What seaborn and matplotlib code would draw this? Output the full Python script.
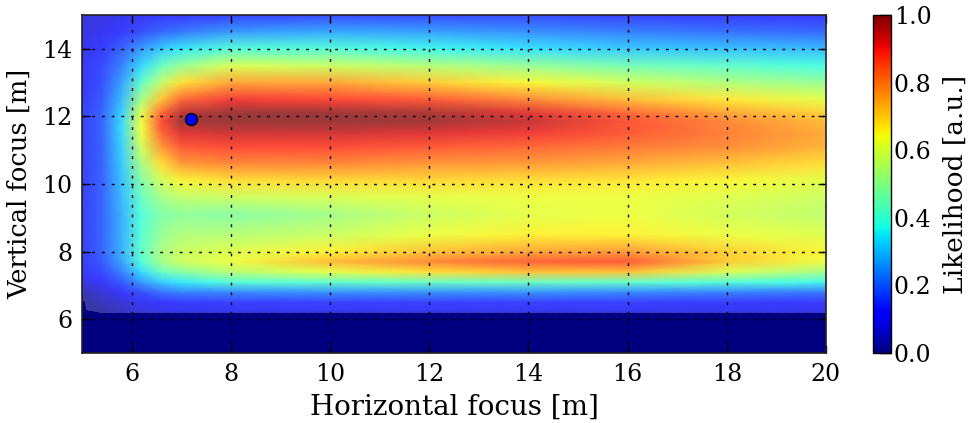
import numpy as np
import matplotlib
matplotlib.use("Agg")
import matplotlib.pyplot as plt
from matplotlib.colors import ListedColormap, Normalize
import seaborn as sns

# ---- data ----
horizontal_focus = [5.0, 5.4, 5.8, 6.2, 6.6, 7.0, 8.0, 10.0, 12.0, 14.0, 16.0, 18.0, 20.0]
vertical_focus = [5.0, 6.15, 6.25, 6.5, 6.8, 7.1, 7.4, 7.7, 8.0, 8.5, 9.1, 9.6,
                  10.1, 10.6, 11.1, 11.5, 11.85, 12.1, 12.5, 13.0, 13.5, 14.0, 14.5, 15.0]
likelihood_rows = [
    [0.00, 0.00, 0.00, 0.00, 0.00, 0.00, 0.00, 0.00, 0.00, 0.00, 0.00, 0.00, 0.00],  # 5.0
    [0.00, 0.00, 0.00, 0.00, 0.00, 0.00, 0.00, 0.00, 0.00, 0.00, 0.00, 0.00, 0.00],  # 6.15
    [0.00, 0.02, 0.05, 0.08, 0.09, 0.10, 0.10, 0.10, 0.10, 0.10, 0.10, 0.10, 0.10],  # 6.25
    [0.00, 0.04, 0.07, 0.10, 0.12, 0.13, 0.14, 0.14, 0.14, 0.14, 0.14, 0.13, 0.13],  # 6.5
    [0.03, 0.07, 0.11, 0.16, 0.20, 0.22, 0.23, 0.24, 0.24, 0.24, 0.23, 0.22, 0.21],  # 6.8
    [0.08, 0.11, 0.17, 0.25, 0.31, 0.35, 0.40, 0.42, 0.43, 0.43, 0.42, 0.40, 0.37],  # 7.1
    [0.11, 0.15, 0.22, 0.33, 0.43, 0.48, 0.55, 0.62, 0.68, 0.72, 0.72, 0.60, 0.52],  # 7.4
    [0.13, 0.17, 0.26, 0.40, 0.52, 0.58, 0.63, 0.73, 0.80, 0.85, 0.86, 0.71, 0.63],  # 7.7
    [0.14, 0.18, 0.28, 0.42, 0.53, 0.58, 0.61, 0.66, 0.72, 0.76, 0.77, 0.70, 0.65],  # 8.0
    [0.14, 0.18, 0.28, 0.41, 0.50, 0.54, 0.55, 0.58, 0.63, 0.66, 0.66, 0.63, 0.61],  # 8.5
    [0.14, 0.18, 0.28, 0.40, 0.47, 0.49, 0.48, 0.52, 0.58, 0.62, 0.63, 0.59, 0.56],  # 9.1
    [0.14, 0.18, 0.29, 0.43, 0.52, 0.56, 0.58, 0.60, 0.62, 0.63, 0.63, 0.61, 0.58],  # 9.6
    [0.14, 0.18, 0.30, 0.47, 0.59, 0.65, 0.68, 0.69, 0.69, 0.68, 0.67, 0.65, 0.62],  # 10.1
    [0.14, 0.18, 0.31, 0.53, 0.68, 0.77, 0.80, 0.80, 0.78, 0.77, 0.75, 0.72, 0.68],  # 10.6
    [0.14, 0.18, 0.32, 0.59, 0.78, 0.86, 0.88, 0.88, 0.86, 0.84, 0.82, 0.79, 0.74],  # 11.1
    [0.14, 0.18, 0.33, 0.63, 0.84, 0.92, 0.94, 0.94, 0.92, 0.90, 0.86, 0.81, 0.75],  # 11.5
    [0.14, 0.18, 0.33, 0.64, 0.88, 0.99, 1.00, 1.00, 0.99, 0.95, 0.87, 0.80, 0.73],  # 11.85
    [0.14, 0.18, 0.32, 0.62, 0.84, 0.96, 1.00, 1.00, 0.98, 0.92, 0.84, 0.76, 0.70],  # 12.1
    [0.13, 0.17, 0.29, 0.53, 0.72, 0.84, 0.90, 0.89, 0.86, 0.80, 0.73, 0.67, 0.62],  # 12.5
    [0.12, 0.16, 0.26, 0.42, 0.57, 0.68, 0.76, 0.76, 0.71, 0.65, 0.59, 0.54, 0.50],  # 13.0
    [0.11, 0.15, 0.22, 0.33, 0.43, 0.50, 0.60, 0.58, 0.55, 0.50, 0.45, 0.42, 0.38],  # 13.5
    [0.10, 0.13, 0.18, 0.25, 0.31, 0.35, 0.40, 0.40, 0.37, 0.34, 0.31, 0.30, 0.29],  # 14.0
    [0.08, 0.10, 0.13, 0.16, 0.19, 0.21, 0.25, 0.27, 0.26, 0.24, 0.22, 0.20, 0.19],  # 14.5
    [0.07, 0.08, 0.09, 0.10, 0.11, 0.12, 0.14, 0.15, 0.15, 0.15, 0.14, 0.13, 0.12],  # 15.0
]
best_focus_x = [7.2]
best_focus_y = [11.92]
x_ticks = [6, 8, 10, 12, 14, 16, 18, 20]
y_ticks = [6, 8, 10, 12, 14]
cbar_ticks = [0.0, 0.2, 0.4, 0.6, 0.8, 1.0]

# ---- style ----
sns.set_style("white")
plt.rcParams["font.family"] = ["DejaVu Serif"]
plt.rcParams["mathtext.fontset"] = "dejavuserif"
plt.rcParams["text.color"] = "black"
plt.rcParams["axes.labelcolor"] = "black"

fig = plt.figure(figsize=(9.7, 4.23), dpi=100)
ax = fig.add_axes([82 / 970, 70 / 423, 744 / 970, 338 / 423])
cax = fig.add_axes([873 / 970, 70 / 423, 18 / 970, 338 / 423])

X, Y = np.meshgrid(np.array(horizontal_focus), np.array(vertical_focus))
Z = np.array(likelihood_rows)

jet = plt.get_cmap("jet")
# jet washed with white (semi-transparent look of the map)
jet_rgb = jet(np.linspace(0, 1, 256))[:, :3]
washed = ListedColormap(0.78 * jet_rgb + 0.22)

ax.set_facecolor("white")
ax.pcolormesh(X, Y, Z, shading="gouraud", cmap=washed, vmin=0, vmax=1,
              zorder=1, rasterized=True)
# zero-likelihood floor, drawn opaque
ax.contourf(X, Y, Z, levels=[-1.0, 0.004], colors=[jet(0.0)], zorder=2)

sns.scatterplot(x=best_focus_x, y=best_focus_y, ax=ax, color="#0000ff",
                edgecolor="black", linewidth=1.0, s=75, zorder=6, legend=False)

ax.set_xlim(5, 20)
ax.set_ylim(5, 15)
ax.set_xticks(x_ticks)
ax.set_yticks(y_ticks)
ax.set_axisbelow(False)
ax.grid(True, color="black", linestyle=(0, (2, 5)), linewidth=1.0, zorder=4)
ax.tick_params(axis="both", which="major", direction="in", length=6, width=1.0,
               bottom=True, left=True, top=True, right=True,
               labelsize=17, colors="black", pad=7)
for sp in ax.spines.values():
    sp.set_color("#222222")
    sp.set_linewidth(1.2)
    sp.set_zorder(7)
ax.set_xlabel("Horizontal focus [m]", fontsize=20, labelpad=6)
ax.set_ylabel("Vertical focus [m]", fontsize=18.5, labelpad=7)

sm = matplotlib.cm.ScalarMappable(norm=Normalize(0, 1), cmap=jet)
cb = fig.colorbar(sm, cax=cax)
cb.set_ticks(cbar_ticks)
cb.set_ticklabels([f"{t:.1f}" for t in cbar_ticks])
cb.ax.tick_params(direction="in", right=True, left=False, length=8, width=1.0,
                  labelsize=17, pad=2, colors="black")
cb.outline.set_linewidth(1.0)
cb.outline.set_edgecolor("black")
cb.set_label("Likelihood [a.u.]", fontsize=19, labelpad=8)

fig.savefig("out.png", dpi=100)
